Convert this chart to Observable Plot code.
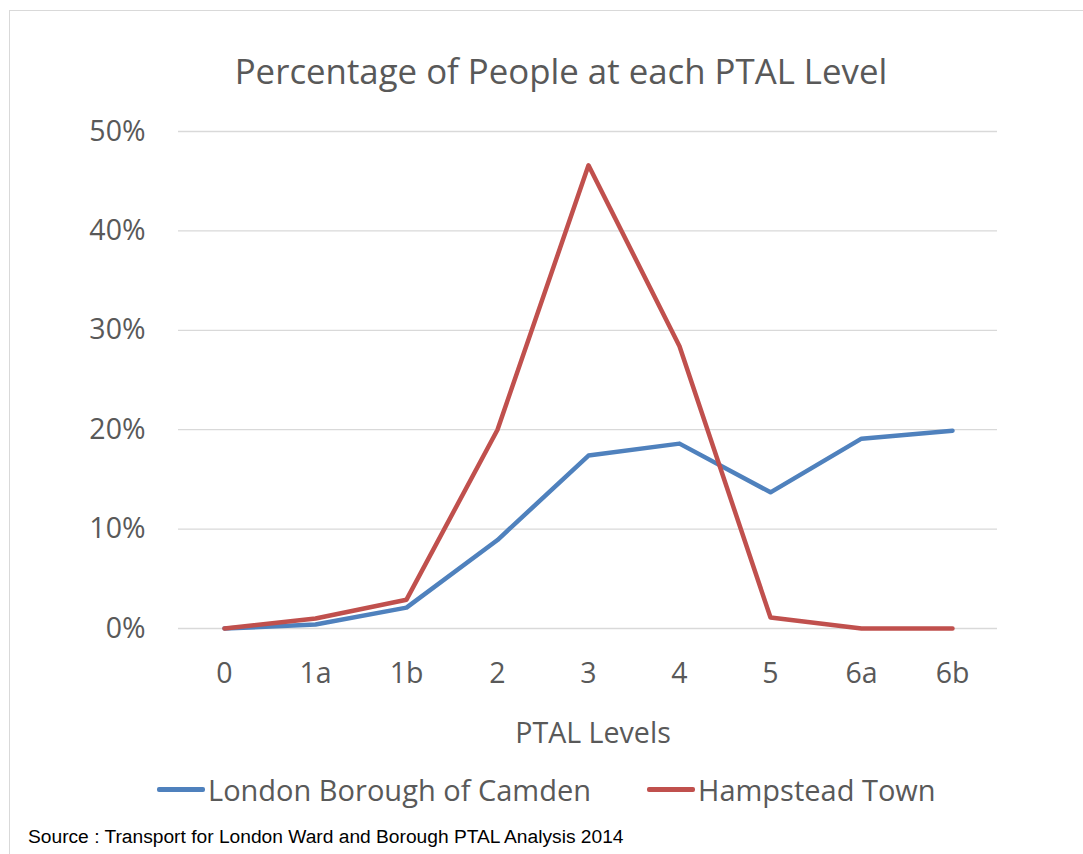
<!DOCTYPE html>
<html>
<head>
<meta charset="utf-8">
<script src="https://cdn.jsdelivr.net/npm/d3@7"></script>
<script src="https://cdn.jsdelivr.net/npm/@observablehq/plot@0.6"></script>
<style>
  html, body { margin: 0; padding: 0; background: #fff; }
  body { width: 1083px; height: 854px; position: relative; overflow: hidden; font-family: "Open Sans", sans-serif; }
  #frame { position: absolute; left: 9px; top: 10px; width: 1100px; height: 900px; border: 1px solid #d9d9d9; box-sizing: border-box; }
  #chart { position: absolute; left: 0; top: 0; }
  .t { position: absolute; color: #595959; white-space: nowrap; line-height: 1; }
  #title { left: 0; width: 1122px; text-align: center; top: 54px; font-size: 34.8px; }
  #xlabel { left: 0; width: 1186px; text-align: center; top: 718px; font-size: 28.6px; }
  #legend { position: absolute; top: 773px; left: 0; width: 1083px; height: 32px; }
  .li { position: absolute; top: 0; display: flex; align-items: center; height: 32px; }
  .sw { width: 48px; height: 5px; border-radius: 2px; margin-right: 3px; }
  .lt { color: #595959; font-size: 29px; line-height: 1; }
  #source { position: absolute; left: 28px; top: 827px; font-family: "Liberation Sans", Arial, sans-serif; font-size: 19.2px; line-height: 1; color: #000; }
</style>
</head>
<body>
<div id="frame"></div>
<div id="chart"></div>
<div class="t" id="title">Percentage of People at each PTAL Level</div>
<div class="t" id="xlabel">PTAL Levels</div>
<div id="legend"></div>
<div id="source">Source : Transport for London Ward and Borough PTAL Analysis 2014</div>
<script>
const levels = ["0", "1a", "1b", "2", "3", "4", "5", "6a", "6b"];
const camden = [0.0, 0.4, 2.1, 8.9, 17.4, 18.6, 13.7, 19.1, 19.9];
const hampstead = [0.0, 1.0, 2.9, 20.0, 46.6, 28.4, 1.1, 0.0, 0.0];
const seriesNames = ["London Borough of Camden", "Hampstead Town"];
const seriesColors = ["#4F81BD", "#C0504D"];
const yTicks = [0, 10, 20, 30, 40, 50];

const rows = [];
levels.forEach((l, i) => {
  rows.push({level: l, value: camden[i], series: seriesNames[0]});
});
levels.forEach((l, i) => {
  rows.push({level: l, value: hampstead[i], series: seriesNames[1]});
});

const chart = Plot.plot({
  width: 1083,
  height: 760,
  marginLeft: 178,
  marginRight: 86,
  marginTop: 131,
  marginBottom: 132,
  style: {fontFamily: "Open Sans", color: "#595959", background: "transparent", overflow: "visible"},
  x: {type: "point", domain: levels, padding: 0.5},
  y: {domain: [0, 50]},
  color: {domain: seriesNames, range: seriesColors},
  marks: [
    Plot.ruleY(yTicks, {stroke: "#d9d9d9", strokeWidth: 1.3, strokeOpacity: 1}),
    Plot.axisY({ticks: yTicks, tickSize: 0, tickPadding: 33, tickFormat: d => d + "%", fontSize: 28.5, label: null}),
    Plot.axisX({tickSize: 0, tickPadding: 34, fontSize: 28.5, label: null}),
    Plot.line(rows, {x: "level", y: "value", z: "series", stroke: "series", strokeWidth: 4.5, strokeLinejoin: "round", strokeLinecap: "round"})
  ]
});
document.getElementById("chart").appendChild(chart);

const legend = document.getElementById("legend");
const legendX = [157, 647];
seriesNames.forEach((name, i) => {
  const item = document.createElement("div");
  item.className = "li";
  item.style.left = legendX[i] + "px";
  const sw = document.createElement("div");
  sw.className = "sw";
  sw.style.background = seriesColors[i];
  const tx = document.createElement("span");
  tx.className = "lt";
  tx.textContent = name;
  item.appendChild(sw);
  item.appendChild(tx);
  legend.appendChild(item);
});
</script>
</body>
</html>
